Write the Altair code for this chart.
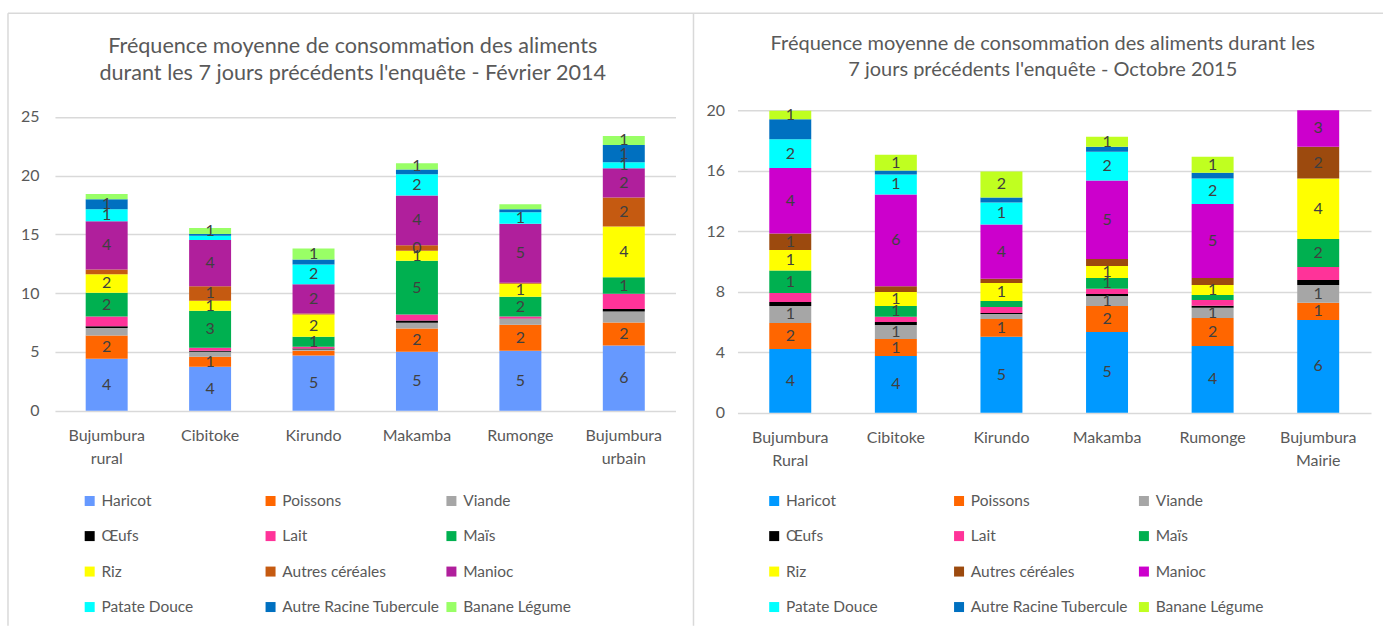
import altair as alt
import pandas as pd

FOODS = [
    "Haricot", "Poissons", "Viande", "Œufs", "Lait", "Maïs", "Riz",
    "Autres céréales", "Manioc", "Patate Douce", "Autre Racine Tubercule",
    "Banane Légume",
]

# ---- February 2014 ----
REGIONS_14 = ["Bujumbura rural", "Cibitoke", "Kirundo", "Makamba", "Rumonge", "Bujumbura urbain"]
HARICOT_14 = [4.41, 3.73, 4.69, 5.01, 5.09, 5.54]
POISSONS_14 = [1.98, 0.85, 0.40, 1.98, 2.21, 1.95]
VIANDE_14 = [0.65, 0.42, 0.11, 0.48, 0.51, 0.94]
OEUFS_14 = [0.14, 0.09, 0.09, 0.20, 0.03, 0.22]
LAIT_14 = [0.82, 0.26, 0.14, 0.51, 0.17, 1.30]
MAIS_14 = [2.04, 3.16, 0.85, 4.58, 1.69, 1.39]
RIZ_14 = [1.56, 0.85, 1.89, 0.85, 1.10, 4.33]
AUTRES_CEREALES_14 = [0.42, 1.22, 0.09, 0.46, 0.09, 2.46]
MANIOC_14 = [4.10, 3.93, 2.49, 4.24, 5.01, 2.49]
PATATE_14 = [1.02, 0.37, 1.69, 1.81, 0.99, 0.51]
AUTRE_RACINE_14 = [0.85, 0.14, 0.43, 0.40, 0.25, 1.48]
BANANE_14 = [0.44, 0.52, 0.93, 0.54, 0.42, 0.76]

# ---- October 2015 ----
REGIONS_15 = ["Bujumbura Rural", "Cibitoke", "Kirundo", "Makamba", "Rumonge", "Bujumbura Mairie"]
HARICOT_15 = [4.21, 3.74, 5.02, 5.33, 4.41, 6.12]
POISSONS_15 = [1.72, 1.13, 1.17, 1.72, 1.85, 1.15]
VIANDE_15 = [1.12, 0.92, 0.33, 0.66, 0.68, 1.17]
OEUFS_15 = [0.26, 0.20, 0.07, 0.13, 0.13, 0.33]
LAIT_15 = [0.60, 0.35, 0.39, 0.35, 0.37, 0.86]
MAIS_15 = [1.48, 0.71, 0.40, 0.71, 0.34, 1.85]
RIZ_15 = [1.36, 0.92, 1.19, 0.79, 0.66, 4.00]
AUTRES_CEREALES_15 = [1.10, 0.38, 0.28, 0.46, 0.46, 2.10]
MANIOC_15 = [4.32, 6.08, 3.59, 5.20, 4.89, 2.70]
PATATE_15 = [1.90, 1.32, 1.46, 1.90, 1.69, None]
AUTRE_RACINE_15 = [1.32, 0.26, 0.33, 0.33, 0.38, None]
BANANE_15 = [0.57, 1.04, 1.72, 0.66, 1.06, None]

COLORS_14 = ["#6699FF", "#FF6600", "#A6A6A6", "#000000", "#FF3399", "#00B050",
             "#FFFF00", "#C55A11", "#B01F9C", "#00FFFF", "#0070C0", "#99FF66"]
COLORS_15 = ["#0099FF", "#FF6600", "#A6A6A6", "#000000", "#FF3399", "#00B050",
             "#FFFF00", "#9C4A0E", "#CC00CC", "#00FFFF", "#0070C0", "#C0FF20"]

TITLE_14 = ["Fréquence moyenne de consommation des aliments",
            "durant les 7 jours précédents l'enquête - Février 2014"]
TITLE_15 = ["Fréquence moyenne de consommation des aliments durant les",
            "7 jours précédents l'enquête - Octobre 2015"]

SERIES_14 = [HARICOT_14, POISSONS_14, VIANDE_14, OEUFS_14, LAIT_14, MAIS_14, RIZ_14,
             AUTRES_CEREALES_14, MANIOC_14, PATATE_14, AUTRE_RACINE_14, BANANE_14]
SERIES_15 = [HARICOT_15, POISSONS_15, VIANDE_15, OEUFS_15, LAIT_15, MAIS_15, RIZ_15,
             AUTRES_CEREALES_15, MANIOC_15, PATATE_15, AUTRE_RACINE_15, BANANE_15]

FONT = "Lato"
TEXT_GREY = "#595959"
GRID_GREY = "#D9D9D9"


def long_table(regions, series):
    rows = []
    for order, (food, values) in enumerate(zip(FOODS, series)):
        for region, v in zip(regions, values):
            if v is not None:
                rows.append({"region": region, "food": food, "order": order, "value": v})
    return pd.DataFrame(rows)


def panel(regions, series, colors, title, width, height, ymax, ticks,
          hidden_labels, label_min, title_pos, title_size, title_lh, ylab_pad,
          legend_x, legend_y, col_pad, frame=False):
    data = long_table(regions, series)
    base = alt.Chart(data).transform_stack(
        stack="value", groupby=["region"], as_=["y0", "y1"],
        sort=[alt.SortField("order", order="ascending")],
    ).transform_calculate(
        c0=f"min(datum.y0, {ymax})",
        c1=f"min(datum.y1, {ymax})",
    ).transform_calculate(
        mid="(datum.c0 + datum.c1) / 2",
    )

    x = alt.X(
        "region:N", sort=regions, title=None,
        scale=alt.Scale(paddingInner=0.6, paddingOuter=0.3),
        axis=alt.Axis(labelAngle=0, domain=False, ticks=False, labelPadding=17,
                      labelFont=FONT, labelFontSize=16, labelColor=TEXT_GREY,
                      labelLineHeight=23, labelExpr="split(datum.label, ' ')"),
    )
    y_scale = alt.Scale(domain=[0, ymax], nice=False, zero=True)

    bars = base.transform_filter(f"datum.y0 < {ymax}").mark_bar(size=42).encode(
        x=x,
        y=alt.Y("c0:Q", scale=y_scale, title=None,
                axis=alt.Axis(values=ticks, grid=True, gridColor=GRID_GREY, gridWidth=1.5,
                              domain=False, ticks=False, labelPadding=ylab_pad,
                              labelFont=FONT, labelFontSize=16, labelColor=TEXT_GREY)),
        y2="c1:Q",
        color=alt.Color(
            "food:N",
            scale=alt.Scale(domain=FOODS, range=colors),
            legend=alt.Legend(
                title=None, orient="none", legendX=legend_x, legendY=legend_y,
                direction="horizontal", columns=3, gridAlign="all",
                columnPadding=col_pad, rowPadding=18.5,
                symbolType="square", symbolSize=100, symbolStrokeWidth=0,
                labelFont=FONT, labelFontSize=15.5, labelColor=TEXT_GREY,
                labelLimit=400, labelOffset=4,
            ),
        ),
        order=alt.Order("order:Q"),
    )

    hidden = " && ".join(f"datum.food !== '{f}'" for f in hidden_labels)
    labels = base.transform_filter(
        f"{hidden} && datum.value >= {label_min} && datum.y0 < {ymax}"
    ).mark_text(font=FONT, fontSize=16, color="#404040", baseline="middle").encode(
        x=alt.X("region:N", sort=regions),
        y=alt.Y("mid:Q", scale=y_scale),
        text=alt.Text("value:Q", format=".0f"),
    )

    # two-line chart heading, placed above the plot area
    dot = alt.Chart(pd.DataFrame({"k": [0]}))
    heading = dot.mark_text(
        font=FONT, fontSize=title_size, color=TEXT_GREY, align="center",
        baseline="alphabetic", lineHeight=title_lh,
    ).encode(x=alt.value(title_pos[0]), y=alt.value(title_pos[1]), text=alt.value(title))

    layers = [bars, labels, heading]
    if frame:
        top = dot.mark_rule(color=GRID_GREY, strokeWidth=1.5).encode(
            x=alt.value(-47), x2=alt.value(1329), y=alt.value(-97))
        left = dot.mark_rule(color=GRID_GREY, strokeWidth=1.5).encode(
            x=alt.value(-47), y=alt.value(-97), y2=alt.value(516))
        divider = dot.mark_rule(color=GRID_GREY, strokeWidth=1.5).encode(
            x=alt.value(639), y=alt.value(-97), y2=alt.value(516))
        layers += [top, left, divider]

    return alt.layer(*layers).properties(width=width, height=height)


left_panel = panel(
    REGIONS_14, SERIES_14, COLORS_14, TITLE_14, width=621, height=300.7,
    ymax=25.57, ticks=[0, 5, 10, 15, 20, 25],
    hidden_labels=["Viande", "Œufs", "Lait"], label_min=0.45,
    title_pos=(298, -56.7), title_size=21.6, title_lh=26.7, ylab_pad=16,
    legend_x=27, legend_y=383, col_pad=4, frame=True,
)
right_panel = panel(
    REGIONS_15, SERIES_15, COLORS_15, TITLE_15, width=634, height=302.7,
    ymax=20, ticks=list(range(0, 21, 2)),
    hidden_labels=["Œufs", "Lait", "Autre Racine Tubercule"], label_min=0.5,
    title_pos=(305.5, -60), title_size=20, title_lh=25.5, ylab_pad=13,
    legend_x=29, legend_y=383, col_pad=8,
)

chart = alt.hconcat(left_panel, right_panel, spacing=62, bounds="flush").resolve_scale(
    color="independent", x="independent", y="independent"
).resolve_legend(color="independent").properties(
    padding={"left": 7, "top": 12, "right": 0, "bottom": 0},
    background="white",
).configure_view(stroke=None)

chart.save("out.html", embed_options={"renderer": "svg", "actions": False})
